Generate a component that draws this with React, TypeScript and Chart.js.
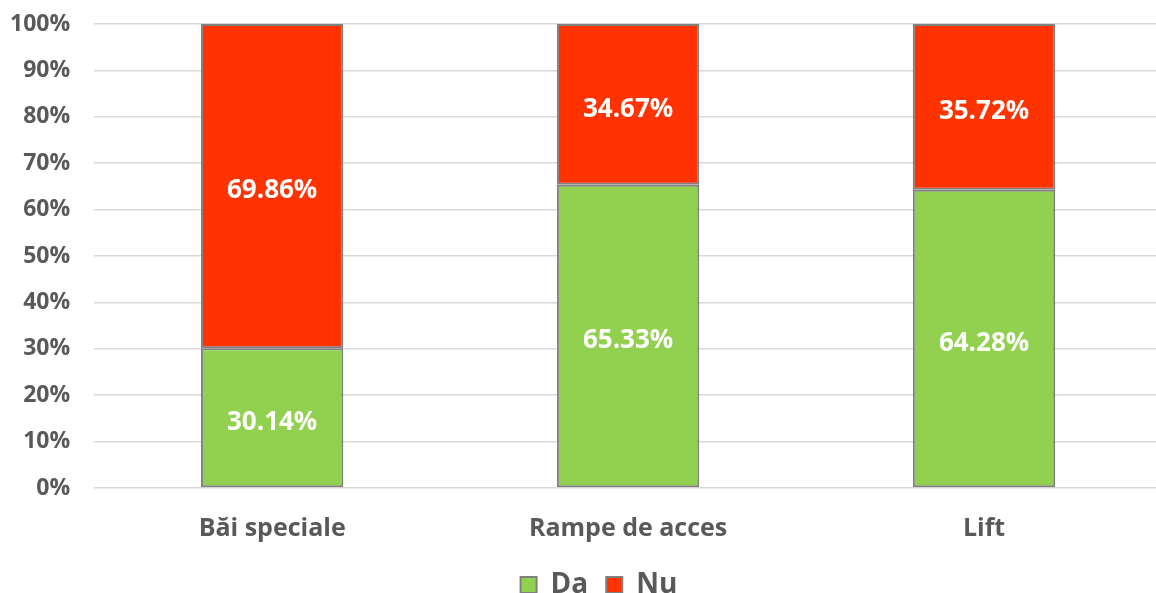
import React, { useEffect, useRef } from "react";
import { Chart, registerables } from "chart.js";

Chart.register(...registerables);

const categories = ["Băi speciale", "Rampe de acces", "Lift"];
const daValues = [30.14, 65.33, 64.28];
const nuValues = [69.86, 34.67, 35.72];
const yTicks = [0, 10, 20, 30, 40, 50, 60, 70, 80, 90, 100];

const FONT = "'Open Sans', 'Noto Sans', sans-serif";
const LEGEND_SHIFT_Y = -17;
const LEGEND_SHIFT_X = 25;

const labelPlugin = {
  id: "barLabels",
  afterDatasetsDraw(chart: any) {
    const ctx = chart.ctx;
    ctx.save();
    ctx.fillStyle = "#ffffff";
    ctx.font = `bold 26px ${FONT}`;
    ctx.textAlign = "center";
    ctx.textBaseline = "middle";
    chart.data.datasets.forEach((ds: any, di: number) => {
      const meta = chart.getDatasetMeta(di);
      meta.data.forEach((el: any, i: number) => {
        const v = ds.data[i] as number;
        const cy = (el.y + el.base) / 2;
        ctx.fillText(v.toFixed(2) + "%", el.x, cy + 5);
      });
    });
    ctx.restore();
  },
};

const legendShiftPlugin = {
  id: "legendShift",
  afterLayout(chart: any) {
    const l = chart.legend;
    if (l) {
      l.top += LEGEND_SHIFT_Y;
      l.bottom += LEGEND_SHIFT_Y;
      l.left += LEGEND_SHIFT_X;
      l.right += LEGEND_SHIFT_X;
    }
  },
};

export default function App() {
  const ref = useRef<HTMLCanvasElement>(null);
  useEffect(() => {
    document.body.style.margin = "0";
    document.body.style.overflow = "hidden";
    document.documentElement.style.overflow = "hidden";
    const chart = new Chart(ref.current!, {
      type: "bar",
      data: {
        labels: categories,
        datasets: [
          {
            label: "Da",
            data: daValues,
            backgroundColor: "#92D050",
            borderColor: "#808080",
            borderWidth: 2,
            borderSkipped: false,
            categoryPercentage: 1,
            barPercentage: 0.4,
          },
          {
            label: "Nu",
            data: nuValues,
            backgroundColor: "#FF3300",
            borderColor: "#808080",
            borderWidth: 2,
            borderSkipped: false,
            categoryPercentage: 1,
            barPercentage: 0.4,
          },
        ],
      },
      options: {
        animation: false,
        responsive: false,
        maintainAspectRatio: false,
        layout: { padding: { left: -14, right: 0, top: 24, bottom: -33 } },
        scales: {
          x: {
            stacked: true,
            grid: { display: false, drawTicks: false },
            border: { display: false },
            ticks: {
              color: "#595959",
              font: { family: FONT, size: 25, weight: "bold" },
              padding: 26,
            },
          },
          y: {
            stacked: true,
            min: 0,
            max: 100,
            afterBuildTicks: (axis: any) => {
              axis.ticks = yTicks.map((v) => ({ value: v }));
            },
            afterFit: (scale: any) => {
              scale.paddingTop = 0;
              scale.paddingBottom = 0;
            },
            grid: { color: "#d9d9d9", lineWidth: 1.5, drawTicks: false },
            border: { display: false },
            ticks: {
              color: "#595959",
              font: { family: FONT, size: 23, weight: "bold" },
              padding: 24,
              callback: (v: any) => v + "%",
            },
          },
        },
        plugins: {
          legend: {
            position: "bottom",
            labels: {
              color: "#595959",
              font: { family: FONT, size: 28, weight: "bold" },
              boxWidth: 16,
              boxHeight: 16,
              padding: 18,
            },
          },
          tooltip: { enabled: false },
        },
      },
      plugins: [labelPlugin, legendShiftPlugin],
    });
    return () => chart.destroy();
  }, []);
  return <canvas ref={ref} width={1162} height={593} style={{ display: "block" }} />;
}
